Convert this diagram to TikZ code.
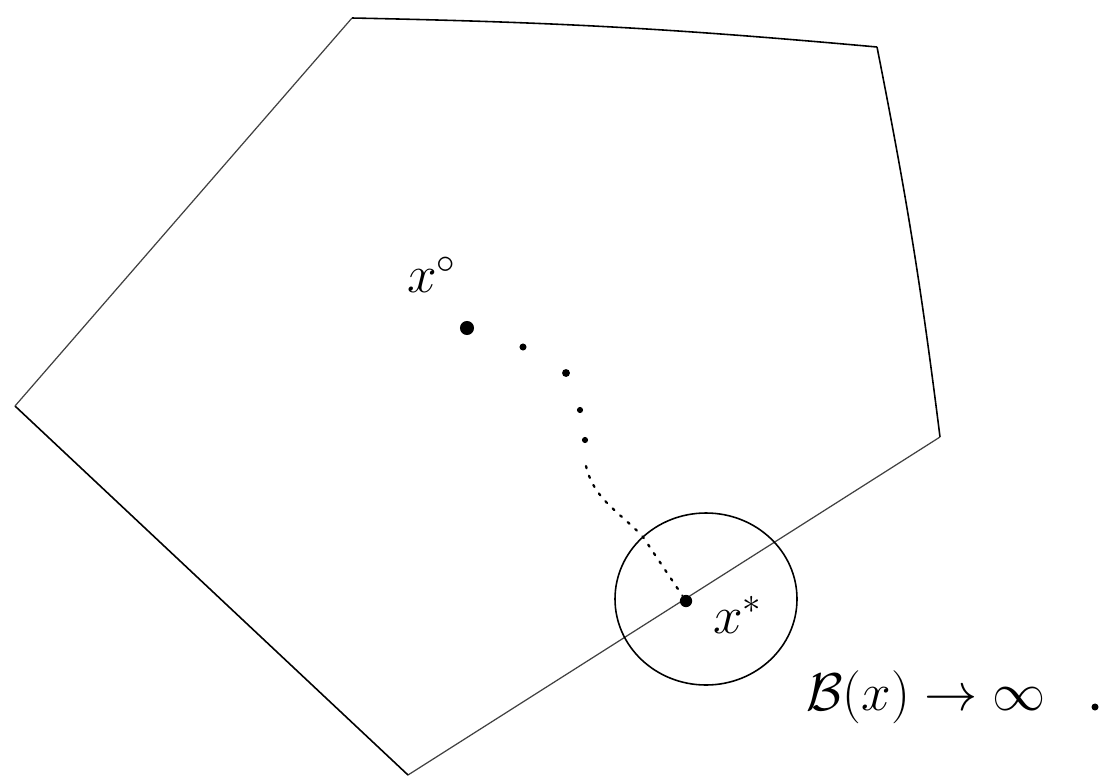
\documentclass[tikz,border=0pt]{standalone}
\usepackage{amsmath,amssymb}
\usepackage{tikz}
\usetikzlibrary{calc}
\newcommand{\handmath}[1]{\scalebox{1.75}{\LARGE$#1$}}

\begin{document}
\begin{tikzpicture}[x=0.02cm, y=-0.02cm,
    side/.style={line width=0.9pt, black},
    thinside/.style={line width=0.7pt, black!75},
    ptlabel/.style={inner sep=0pt},
    dotpt/.style={circle, fill=black, inner sep=0pt, minimum size=#1},
    trail/.style={line width=1.3pt, dash pattern=on 1.3pt off 4.5pt, line cap=round}
]
    \useasboundingbox (0,0) rectangle (1101,781);

    % corners of the feasible set
    \coordinate (p1) at (352,18);
    \coordinate (p2) at (877,47);
    \coordinate (p3) at (940,437);
    \coordinate (p4) at (408,775);
    \coordinate (p5) at (15,406);

    \draw[side] (p1) to[bend left=2] (p2);
    \draw[side] (p2) to[bend left=2] (p3);
    \draw[thinside] (p3) -- (p4);
    \draw[side] (p4) -- (p5);
    \draw[thinside] (p5) -- (p1);

    % start point and path to the optimum
    \node[ptlabel] (lx0) at (432,275) {\handmath{x^{\circ}}};
    \node[dotpt=8pt] (x0) at (467,328) {};
    \node[dotpt=4pt] (d1) at (523,347) {};
    \node[dotpt=4.5pt] (d2) at (566,373) {};
    \node[dotpt=3.5pt] (d3) at (580,410) {};
    \node[dotpt=3.5pt] (d4) at (585,440) {};
    \node[dotpt=7pt] (xs) at (686,601) {};
    \coordinate (bend) at (643,537);

    \draw[trail] (586,466) .. controls (594,500) and (620,512) .. (bend) -- (xs);

    \node[ptlabel] (lxs) at (738,615) {\handmath{x^{*}}};

    % ball around the optimum
    \draw[side] (706,599) ellipse [x radius=91, y radius=86];
    \node[ptlabel, anchor=base west] (barrier) at (806,710) {\handmath{\mathcal{B}(x)\rightarrow\infty}};
    \node[dotpt=4pt] (stop) at (1095,707) {};
\end{tikzpicture}
\end{document}
